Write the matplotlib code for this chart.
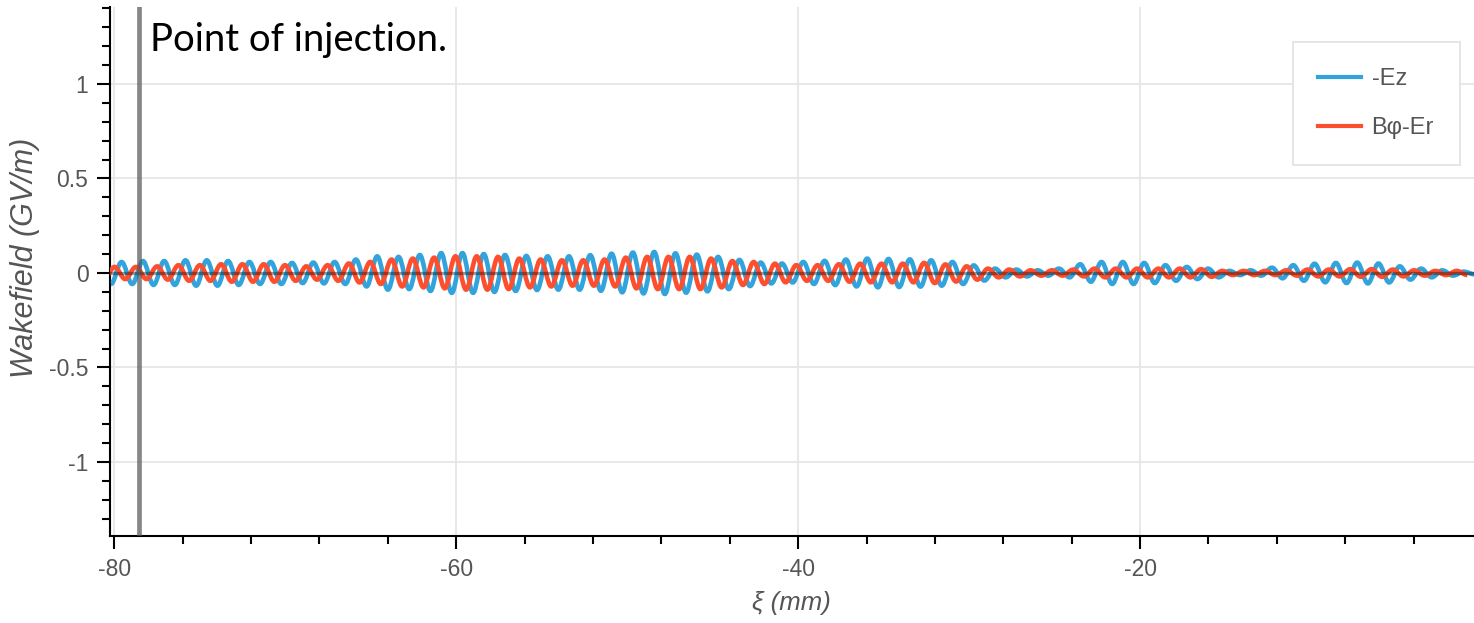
import numpy as np
import matplotlib.pyplot as plt
from matplotlib.path import Path
from matplotlib.patches import PathPatch
from matplotlib.ticker import MultipleLocator, FuncFormatter

plt.rcParams['font.family'] = ['Liberation Sans', 'DejaVu Sans']
plt.rcParams['axes.unicode_minus'] = False

# wave data: position of the first peak, spacing of peaks,
# and the height of every peak (GV/m)
period = 1.246
blue_first_peak = -79.57
red_first_peak = -79.98

blue_amp = [0.058, 0.063, 0.063, 0.067, 0.067, 0.063, 0.058, 0.058, 0.053, 0.055,
            0.058, 0.071, 0.088, 0.085, 0.095, 0.105, 0.105, 0.100, 0.095, 0.090,
            0.088, 0.088, 0.094, 0.102, 0.108, 0.111, 0.104, 0.097, 0.085, 0.069,
            0.055, 0.050, 0.058, 0.064, 0.071, 0.076, 0.074, 0.072, 0.067, 0.058,
            0.040, 0.023, 0.018, 0.014, 0.023, 0.046, 0.058, 0.058, 0.053, 0.041,
            0.032, 0.023, 0.011, 0.014, 0.028, 0.041, 0.049, 0.053, 0.055, 0.050,
            0.035, 0.023, 0.014, 0.007]

red_amp = [0.032, 0.032, 0.035, 0.041, 0.041, 0.046, 0.046, 0.046, 0.041, 0.035,
           0.041, 0.050, 0.058, 0.071, 0.076, 0.081, 0.088, 0.088, 0.085, 0.076,
           0.071, 0.067, 0.067, 0.071, 0.081, 0.085, 0.085, 0.085, 0.076, 0.063,
           0.058, 0.049, 0.041, 0.041, 0.046, 0.049, 0.049, 0.049, 0.053, 0.045,
           0.035, 0.023, 0.018, 0.014, 0.014, 0.018, 0.023, 0.023, 0.023, 0.023,
           0.023, 0.020, 0.011, 0.011, 0.011, 0.014, 0.018, 0.018, 0.020, 0.020,
           0.018, 0.014, 0.011, 0.011]

injection = -78.54
x_ticks = [-80, -60, -40, -20]
y_ticks = [-1, -0.5, 0, 0.5, 1]

blue = '#33a3dc'
red = '#fd4f2e'
label_gray = '#555555'


def wave_path(first_peak, amps):
    # extrema alternate peak / trough, joined by smooth cubic curves
    xs = [first_peak - period / 2]
    ys = [-amps[0]]
    for n, a in enumerate(amps):
        xs += [first_peak + n * period, first_peak + (n + 0.5) * period]
        ys += [a, -a]
    k = 0.3634
    verts = [(xs[0], ys[0])]
    codes = [Path.MOVETO]
    for i in range(len(xs) - 1):
        h = xs[i + 1] - xs[i]
        verts += [(xs[i] + k * h, ys[i]), (xs[i + 1] - k * h, ys[i + 1]), (xs[i + 1], ys[i + 1])]
        codes += [Path.CURVE4] * 3
    return Path(verts, codes)


fig = plt.figure(figsize=(14.74, 6.23), dpi=100)
ax = fig.add_axes([0.0746, 0.1396, 0.9254, 0.849])

ax.add_patch(PathPatch(wave_path(blue_first_peak, blue_amp), fill=False,
                       edgecolor=blue, lw=3.3, zorder=3))
ax.add_patch(PathPatch(wave_path(red_first_peak, red_amp), fill=False,
                       edgecolor=red, lw=3.3, zorder=3.5))
ax.plot([], [], color=blue, lw=3.0, label='-Ez')
ax.plot([], [], color=red, lw=3.0, label='Bφ-Er')

ax.axhline(0, color='black', alpha=0.35, lw=2.4, zorder=4)
ax.axvline(injection, color='#555555', alpha=0.7, lw=3.4, zorder=5)

ax.set_xlim(-80.25, -0.47)
ax.set_ylim(-1.392, 1.407)

ax.set_xticks(x_ticks)
ax.set_yticks(y_ticks)
ax.xaxis.set_minor_locator(MultipleLocator(4))
ax.yaxis.set_minor_locator(MultipleLocator(0.1))
fmt = FuncFormatter(lambda v, p: '%g' % v)
ax.xaxis.set_major_formatter(fmt)
ax.yaxis.set_major_formatter(fmt)

ax.grid(True, which='major', color='#e6e6e6', lw=1.3, zorder=0)
ax.set_axisbelow(True)
for s in ['top', 'right']:
    ax.spines[s].set_visible(False)
for s in ['left', 'bottom']:
    ax.spines[s].set_linewidth(1.5)
    ax.spines[s].set_color('black')

ax.tick_params(which='major', direction='out', length=9.5, width=1.5,
               labelsize=16.5, labelcolor=label_gray, pad=6)
ax.tick_params(which='minor', direction='out', length=5.8, width=1.5)

ax.set_xlabel('ξ (mm)', fontsize=18.5, style='italic', color=label_gray)
ax.set_ylabel('Wakefield (GV/m)', fontsize=22, style='italic', color=label_gray)
ax.xaxis.set_label_coords(0.4993, -0.104)
ax.yaxis.set_label_coords(-0.0513, 0.5255)

leg = ax.legend(loc='upper right', bbox_to_anchor=(0.9897, 0.934), borderaxespad=0,
                fontsize=17, handlelength=1.8, handletextpad=0.45,
                labelspacing=1.15, borderpad=1.1, fancybox=False, framealpha=1)
leg.get_frame().set_edgecolor('#e5e5e5')
leg.get_frame().set_linewidth(1.4)
for t in leg.get_texts():
    t.set_color(label_gray)

fig.text(0.1018, 0.918, 'Point of injection.', fontsize=27.5, family=['Lato', 'DejaVu Sans'],
         color='black', va='baseline', ha='left')

fig.savefig('out.png', dpi=100)
